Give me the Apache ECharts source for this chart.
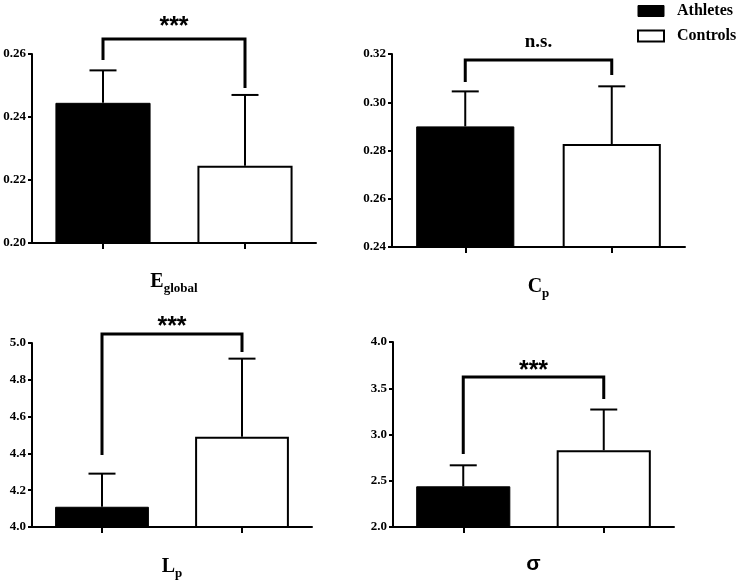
<!DOCTYPE html>
<html>
<head>
<meta charset="utf-8">
<script src="https://cdn.jsdelivr.net/npm/echarts@6/dist/echarts.min.js"></script>
<style>html,body{margin:0;padding:0;background:#fff}#c{width:744px;height:583px}</style>
</head>
<body>
<div id="c"></div>
<script>
// ---- data ----
const groups = ['Athletes', 'Controls'];
const metricMain = ['E', 'C', 'L', 'σ'];
const metricSub = ['global', 'p', 'p', ''];
const athleteMean = [0.2445, 0.290, 4.11, 2.44];
const athleteSD = [0.0103, 0.0145, 0.18, 0.227];
const controlMean = [0.2245, 0.2827, 4.49, 2.83];
const controlSD = [0.0225, 0.0239, 0.425, 0.44];
const yMin = [0.20, 0.24, 4.0, 2.0];
const yMax = [0.26, 0.32, 5.0, 4.0];
const yInterval = [0.02, 0.02, 0.2, 0.5];
const yDecimals = [2, 2, 1, 1];
const sigLabel = ['***', 'n.s.', '***', '***'];
const bracketTop = [0.2648, 0.3175, 5.049, 3.622];
const bracketLeftEnd = [0.2581, 0.3084, 4.391, 2.789];
const bracketRightEnd = [0.2492, 0.3113, 4.951, 3.384];

// ---- layout / style ----
const gridPos = [
  {left: 32, top: 54, width: 284, height: 189},
  {left: 392, top: 54, width: 293, height: 193},
  {left: 32, top: 343, width: 280, height: 184},
  {left: 393, top: 342, width: 281, height: 185}
];
const nameGaps = [25, 26, 26, 27];
const sigGap = [12, 18, 7, 6];
const serif = 'Liberation Serif';

const chart = echarts.init(document.getElementById('c'), null, {renderer: 'canvas'});

const grid = [], xAxis = [], yAxis = [], series = [];
for (let i = 0; i < 4; i++) {
  grid.push(Object.assign({containLabel: false, outerBoundsMode: 'none'}, gridPos[i]));
  const nm = metricSub[i] ? '{m|' + metricMain[i] + '}{s|' + metricSub[i] + '}' : '{g|' + metricMain[i] + '}';
  xAxis.push({
    type: 'category', gridIndex: i, data: groups,
    axisLine: {show: true, lineStyle: {color: '#000', width: 2}},
    axisTick: {show: true, alignWithLabel: true, length: 6, lineStyle: {color: '#000', width: 2}},
    axisLabel: {show: false},
    splitLine: {show: false},
    name: nm, nameLocation: 'middle', nameGap: nameGaps[i],
    nameTextStyle: {
      rich: {
        m: {fontFamily: serif, fontWeight: 'bold', fontSize: 20, color: '#000'},
        s: {fontFamily: serif, fontWeight: 'bold', fontSize: 13, color: '#000', padding: [14, 0, 0, 0]},
        g: {fontFamily: 'Liberation Sans', fontWeight: 'bold', fontSize: 21, color: '#000'}
      }
    }
  });
  const dec = yDecimals[i];
  yAxis.push({
    type: 'value', gridIndex: i, min: yMin[i], max: yMax[i], interval: yInterval[i],
    axisLine: {show: true, lineStyle: {color: '#000', width: 2}},
    axisTick: {show: true, length: 4, lineStyle: {color: '#000', width: 2}},
    axisLabel: {fontFamily: serif, fontWeight: 'bold', fontSize: 13, color: '#000', margin: 6,
      formatter: v => Number(v).toFixed(dec)},
    splitLine: {show: false}
  });
  series.push({
    name: 'Athletes', type: 'bar', xAxisIndex: i, yAxisIndex: i,
    data: [athleteMean[i], '-'], barWidth: '67%', barGap: '-100%',
    itemStyle: {color: '#000', borderColor: '#000', borderWidth: 1}
  });
  series.push({
    name: 'Controls', type: 'bar', xAxisIndex: i, yAxisIndex: i,
    data: ['-', controlMean[i]], barWidth: '67%', barGap: '-100%',
    itemStyle: {color: '#fff', borderColor: '#000', borderWidth: 2}
  });
  series.push({
    name: 'err' + i, type: 'custom', xAxisIndex: i, yAxisIndex: i, clip: false, z: 5,
    data: [[0, athleteMean[i], athleteMean[i] + athleteSD[i]], [1, controlMean[i], controlMean[i] + controlSD[i]]],
    renderItem: function (params, api) {
      const x = api.value(0);
      const p0 = api.coord([x, api.value(1)]);
      const p1 = api.coord([x, api.value(2)]);
      const hw = 13.5;
      return {type: 'group', children: [
        {type: 'line', shape: {x1: p0[0], y1: p0[1], x2: p1[0], y2: p1[1]}, style: {stroke: '#000', lineWidth: 2}},
        {type: 'line', shape: {x1: p1[0] - hw, y1: p1[1], x2: p1[0] + hw, y2: p1[1]}, style: {stroke: '#000', lineWidth: 2}}
      ]};
    }
  });
  const gap = sigGap[i];
  const lab = sigLabel[i];
  series.push({
    name: 'sig' + i, type: 'custom', xAxisIndex: i, yAxisIndex: i, clip: false, z: 6,
    data: [[0, bracketLeftEnd[i], bracketTop[i], bracketRightEnd[i]]],
    renderItem: function (params, api) {
      const a = api.coord([0, api.value(1)]);
      const b = api.coord([0, api.value(2)]);
      const c = api.coord([1, api.value(2)]);
      const d = api.coord([1, api.value(3)]);
      const isStar = lab.indexOf('*') >= 0;
      return {type: 'group', children: [
        {type: 'polyline', shape: {points: [a, b, c, d]}, style: {stroke: '#000', lineWidth: 3, fill: null}},
        {type: 'text', x: (b[0] + c[0]) / 2, y: b[1] - gap,
          style: {text: lab, textAlign: 'center', textVerticalAlign: 'middle',
            font: isStar ? 'bold 25px "Liberation Sans"' : 'bold 19px "Liberation Serif"', fill: '#000'}}
      ]};
    }
  });
}

chart.setOption({
  backgroundColor: '#fff',
  animation: false,
  legend: {
    orient: 'vertical', left: 637, top: 3, padding: 0, itemWidth: 26, itemHeight: 11, itemGap: 9,
    icon: 'rect',
    textStyle: {fontFamily: serif, fontWeight: 'bold', fontSize: 16, color: '#000', padding: [0, 0, 0, 8]},
    data: [
      {name: 'Athletes', itemStyle: {color: '#000', borderColor: '#000', borderWidth: 1}},
      {name: 'Controls', itemStyle: {color: '#fff', borderColor: '#000', borderWidth: 2}}
    ]
  },
  grid: grid, xAxis: xAxis, yAxis: yAxis, series: series
});
</script>
</body>
</html>
